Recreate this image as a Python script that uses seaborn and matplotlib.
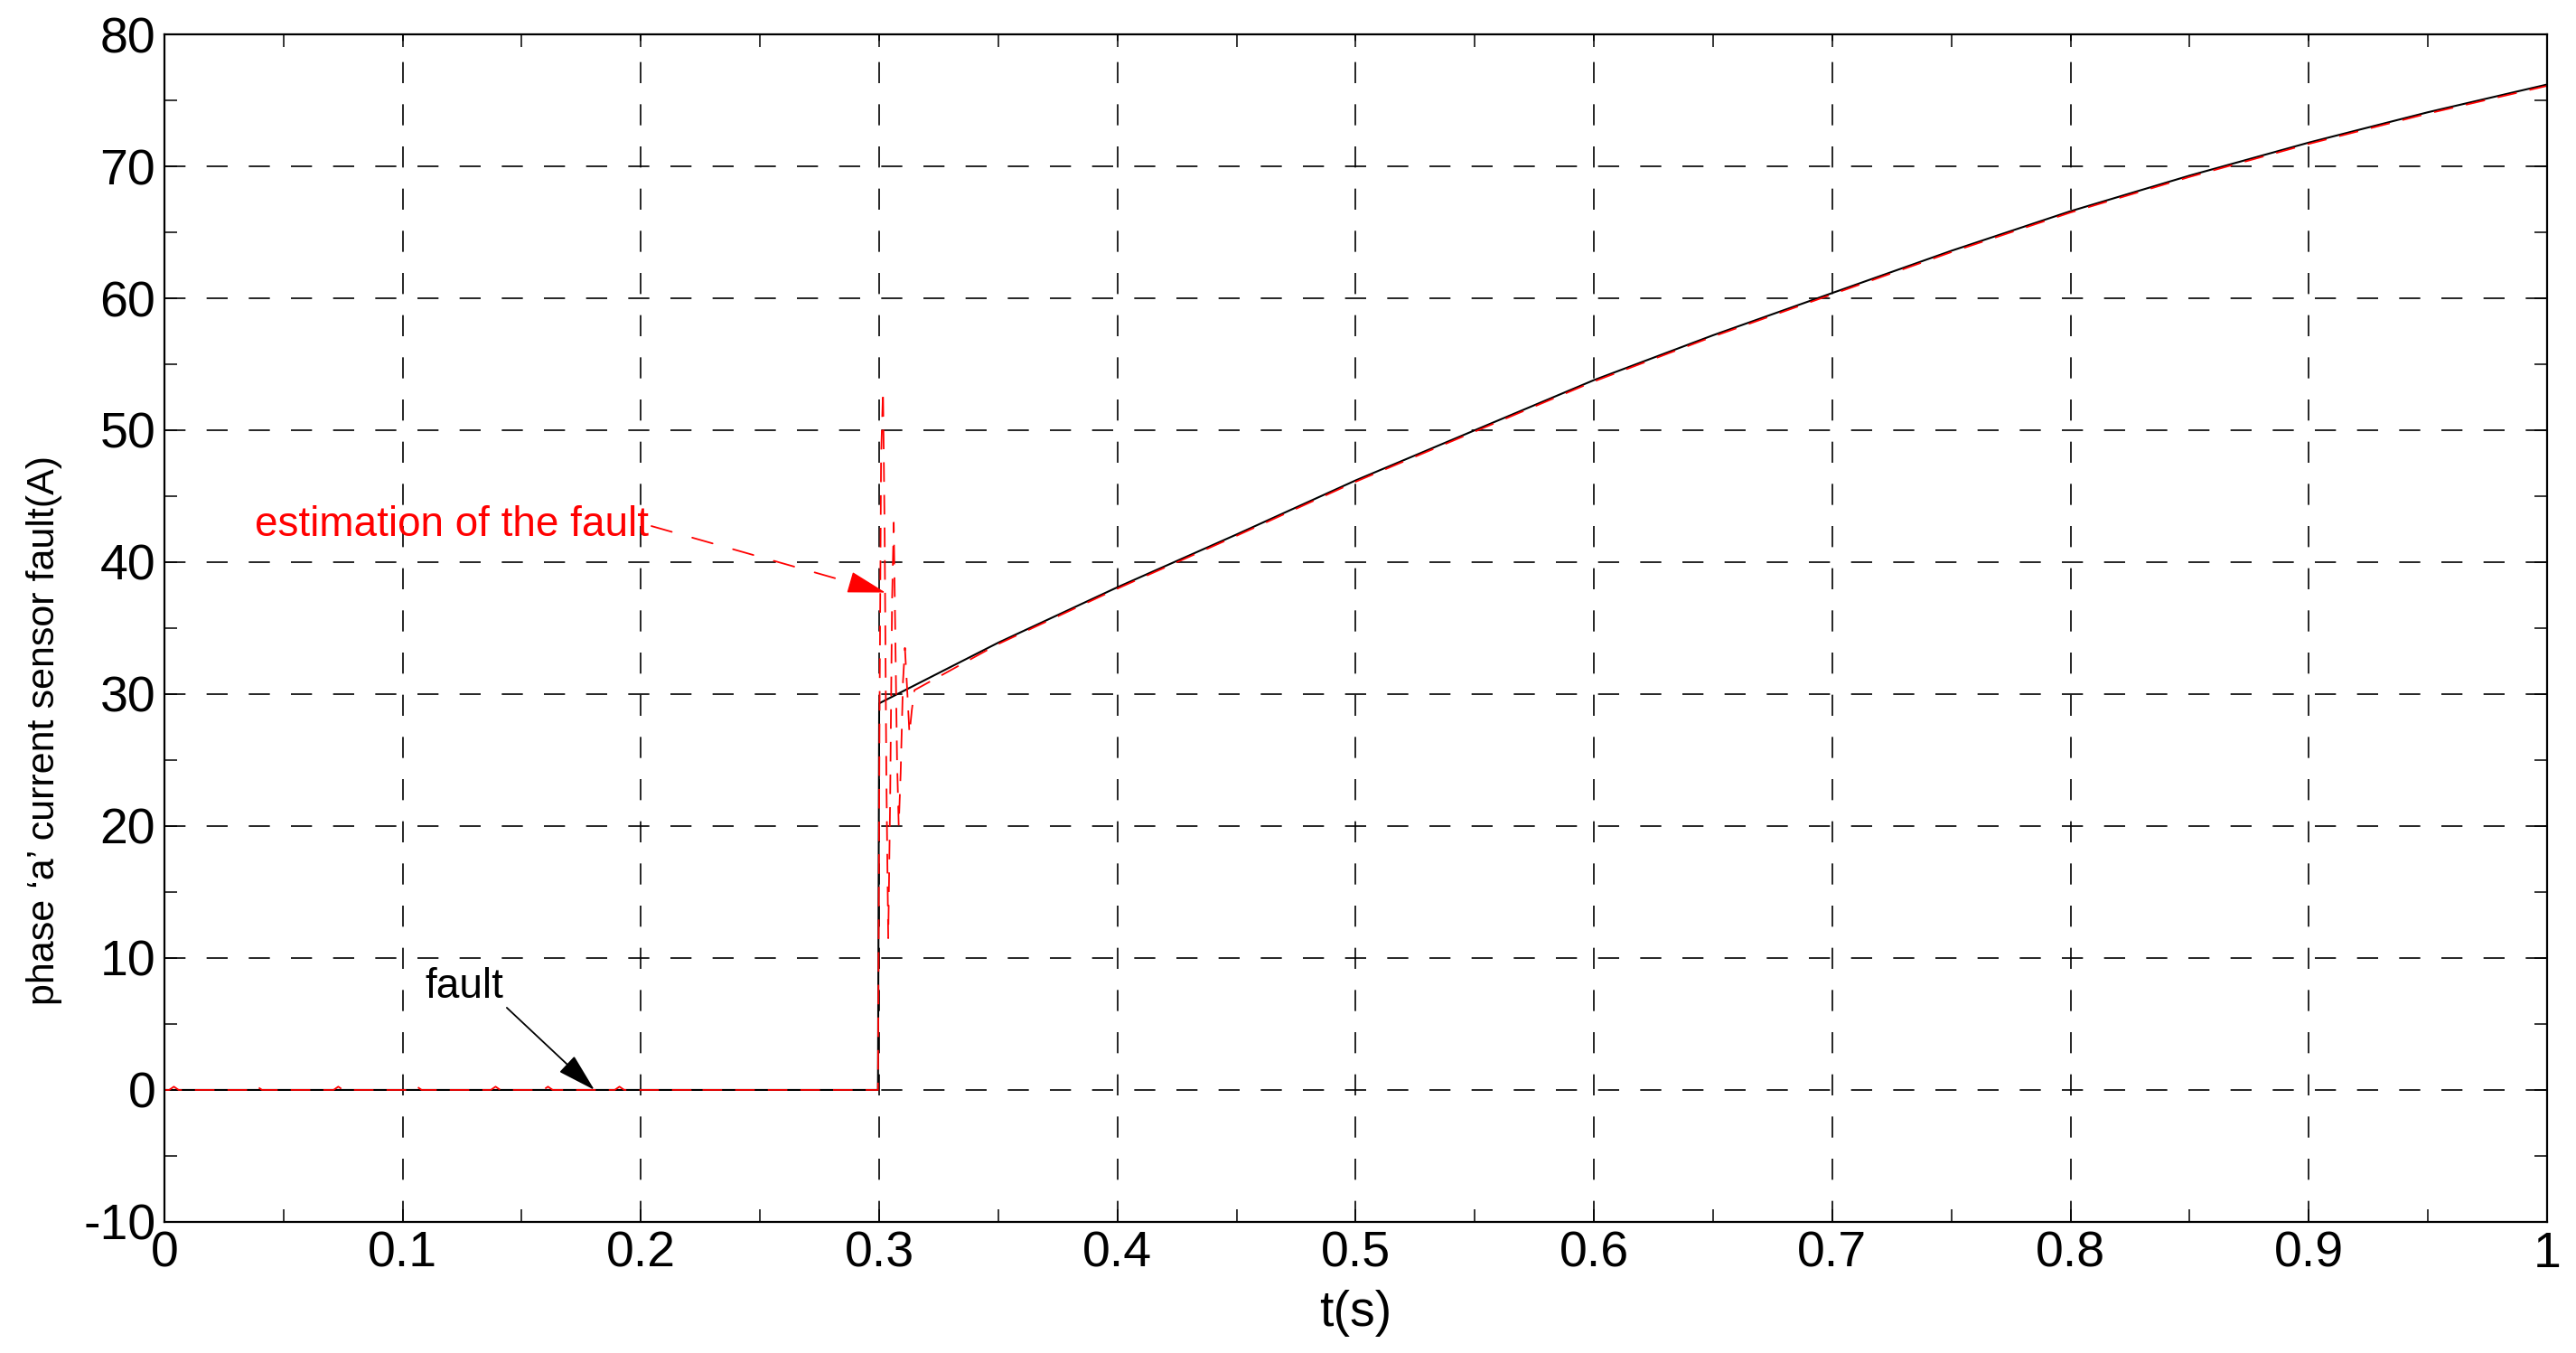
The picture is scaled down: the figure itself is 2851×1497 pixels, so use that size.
import matplotlib
matplotlib.use("Agg")
import matplotlib.pyplot as plt
import seaborn as sns
import pandas as pd
from matplotlib.ticker import MultipleLocator, FixedLocator, FixedFormatter
from matplotlib import font_manager

# ---------------- data ----------------
fault_t = [0.0, 0.2995, 0.3, 0.35, 0.4, 0.45, 0.5, 0.55, 0.6, 0.65, 0.7,
           0.75, 0.8, 0.85, 0.9, 0.95, 1.0]
fault_v = [0.0, 0.0, 29.3, 33.9, 38.1, 42.1, 46.2, 50.0, 53.8, 57.2, 60.4,
           63.6, 66.6, 69.3, 71.8, 74.1, 76.2]

est_t = [0.0, 0.002, 0.004, 0.006, 0.037, 0.039, 0.041, 0.071, 0.073, 0.075,
         0.104, 0.106, 0.108, 0.137, 0.139, 0.141, 0.159, 0.161, 0.163,
         0.189, 0.191, 0.193, 0.221, 0.223, 0.225, 0.2995,
         0.3002, 0.3008, 0.3016, 0.3023, 0.3030, 0.3038, 0.3046, 0.3054,
         0.3061, 0.3068, 0.3075, 0.3082, 0.3090, 0.3100, 0.3108, 0.3117,
         0.3127, 0.3137, 0.3148, 0.35, 0.4, 0.45, 0.5, 0.55, 0.6, 0.65,
         0.7, 0.75, 0.8, 0.85, 0.9, 0.95, 1.0]
est_v = [0.0, 0.0, 0.25, 0.0, 0.0, 0.25, 0.0, 0.0, 0.25, 0.0,
         0.0, 0.25, 0.0, 0.0, 0.25, 0.0, 0.0, 0.25, 0.0,
         0.0, 0.25, 0.0, 0.0, 0.25, 0.0, 0.0,
         30.0, 48.0, 53.0, 42.0, 24.0, 11.5, 22.0, 37.0,
         43.0, 34.0, 25.0, 20.0, 24.0, 31.0, 33.5, 30.5,
         27.0, 28.8, 30.3, 33.8, 38.0, 42.0, 46.1, 49.9, 53.7, 57.1,
         60.3, 63.5, 66.5, 69.2, 71.7, 74.0, 76.1]

x_ticks = [0.0, 0.1, 0.2, 0.3, 0.4, 0.5, 0.6, 0.7, 0.8, 0.9, 1.0]
x_ticklabels = ["0", "0.1", "0.2", "0.3", "0.4", "0.5", "0.6", "0.7", "0.8", "0.9", "1"]
y_ticks = [-10, 0, 10, 20, 30, 40, 50, 60, 70, 80]
y_ticklabels = ["-10", "0", "10", "20", "30", "40", "50", "60", "70", "80"]

xlabel = "t(s)"
ylabel = "phase \u2018a\u2019 current sensor fault(A)"
fault_text = "fault"
est_text = "estimation of the fault"

# ---------------- style ----------------
sns.set_theme(style="white")
plt.rcParams["font.family"] = ["Liberation Sans", "DejaVu Sans"]

installed = {f.name for f in font_manager.fontManager.ttflist}
if "Liberation Sans Narrow" in installed:
    ylab_family = ["Liberation Sans Narrow", "Liberation Sans"]
    ylab_size = 38
else:
    ylab_family = ["Liberation Sans", "DejaVu Sans"]
    ylab_size = 31

fig = plt.figure(figsize=(28.51, 14.97), dpi=100)
ax = fig.add_axes([0.0638, 0.0969, 0.925, 0.8777])

df_fault = pd.DataFrame({"t": fault_t, "v": fault_v})
df_est = pd.DataFrame({"t": est_t, "v": est_v})

sns.lineplot(data=df_fault, x="t", y="v", ax=ax, color="black", lw=1.5,
             sort=False, estimator=None)
sns.lineplot(data=df_est, x="t", y="v", ax=ax, color="red", lw=1.3,
             linestyle=(0, (12, 8)), sort=False, estimator=None)

ax.set_xlim(0, 1)
ax.set_ylim(-10, 80)

ax.xaxis.set_major_locator(FixedLocator(x_ticks))
ax.xaxis.set_major_formatter(FixedFormatter(x_ticklabels))
ax.yaxis.set_major_locator(FixedLocator(y_ticks))
ax.yaxis.set_major_formatter(FixedFormatter(y_ticklabels))
ax.xaxis.set_minor_locator(MultipleLocator(0.05))
ax.yaxis.set_minor_locator(MultipleLocator(5))

ax.tick_params(which="both", direction="in", top=True, right=True,
               bottom=True, left=True, length=10, width=1.1, color="black")
ax.tick_params(which="major", labelsize=40, pad=7, labelcolor="black")

ax.grid(True, which="major", color="black", lw=1.2, linestyle=(0, (14, 14)))

for s in ax.spines.values():
    s.set_visible(True)
    s.set_color("black")
    s.set_linewidth(1.6)

ax.set_xlabel(xlabel, fontsize=40, color="black")
ax.set_ylabel(ylabel, fontsize=ylab_size, color="black", family=ylab_family)
ax.xaxis.set_label_coords(0.5, -0.077)
ax.xaxis.label.set_va("center")
ax.yaxis.set_label_coords(-0.0505, 0.414)
ax.yaxis.label.set_va("center")

# annotations
head = "-|>,head_length=0.6,head_width=0.17"
ax.annotate(fault_text, xy=(0.1805, 0.0), xytext=(0.126, 7.8),
            fontsize=33, color="black", ha="center", va="center",
            arrowprops=dict(arrowstyle=head, color="black", lw=1.3,
                            mutation_scale=45, relpos=(1.0, 0.05),
                            shrinkA=0, shrinkB=0))

ax.annotate(est_text, xy=(0.3026, 37.7), xytext=(0.1205, 42.8),
            fontsize=33, color="red", ha="center", va="center",
            arrowprops=dict(arrowstyle="-", color="red", lw=1.3,
                            linestyle=(0, (13, 13)), relpos=(1.0, 0.5),
                            shrinkA=0, shrinkB=0))
ax.annotate("", xy=(0.3026, 37.7), xytext=(0.2926, 38.22),
            arrowprops=dict(arrowstyle=head, color="red", lw=1.0,
                            mutation_scale=45, shrinkA=0, shrinkB=0))

fig.savefig("out.png", dpi=100)
